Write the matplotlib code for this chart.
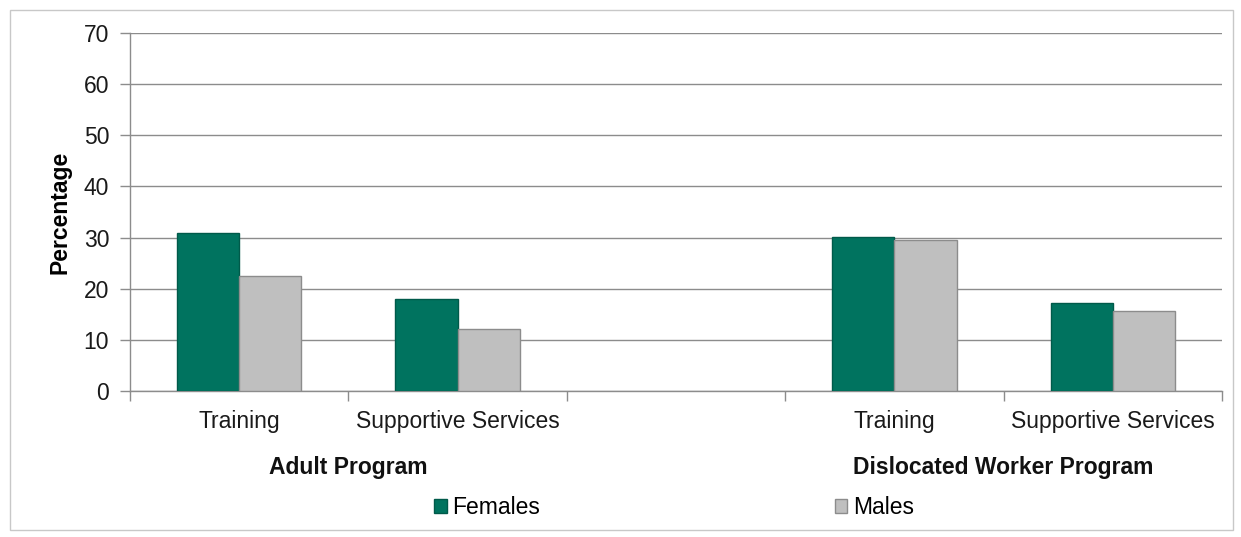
import matplotlib.pyplot as plt
from matplotlib.patches import Rectangle
import numpy as np

plt.rcParams['font.family'] = ['Liberation Sans', 'DejaVu Sans']

categories = ["Training", "Supportive Services", "", "Training", "Supportive Services"]
females = [30.8, 18.0, np.nan, 30.2, 17.2]
males = [22.4, 12.1, np.nan, 29.6, 15.6]
groups = ["Adult Program", "Dislocated Worker Program"]
group_centers = [0.5, 3.5]

green = "#00735f"
grey = "#bfbfbf"
line_grey = "#8c8c8c"

fig = plt.figure(figsize=(12.41, 5.37), dpi=100)
ax = fig.add_axes([130 / 1241, 1 - 391 / 537, 1092 / 1241, 358 / 537])

# light frame around the whole chart
fig.patches.append(Rectangle((10 / 1241, 7 / 537), 1223 / 1241, 520 / 537,
                             transform=fig.transFigure, fill=False,
                             edgecolor="#c8c8c8", linewidth=1))

x = np.arange(len(categories))
w = 0.285
ax.bar(x - w / 2, females, w, color=green, edgecolor="#005a4a", linewidth=1, label="Females", zorder=3)
ax.bar(x + w / 2, males, w, color=grey, edgecolor=line_grey, linewidth=1, label="Males", zorder=3)

ax.set_xlim(-0.5, len(categories) - 0.5)
ax.set_ylim(0, 70)
ax.set_yticks(range(0, 71, 10))
ax.yaxis.grid(True, color=line_grey, linewidth=1, zorder=0)
ax.set_axisbelow(True)

ax.set_xticks(x)
ax.set_xticklabels(categories)
ax.set_xticks(np.arange(-0.5, len(categories), 1), minor=True)
ax.tick_params(axis="x", which="major", length=0, pad=14, labelsize=16.5, labelcolor="#1a1a1a")
ax.tick_params(axis="x", which="minor", length=7, color=line_grey, width=1)
ax.tick_params(axis="y", length=7, color=line_grey, width=1, labelsize=16.5, labelcolor="#1a1a1a", pad=8)

for side in ["top", "right"]:
    ax.spines[side].set_visible(False)
for side in ["left", "bottom"]:
    ax.spines[side].set_color(line_grey)
    ax.spines[side].set_linewidth(1)

ax.set_ylabel("Percentage", fontsize=16.5, fontweight="bold", labelpad=9)

trans = ax.get_xaxis_transform()
for gx, g in zip(group_centers, groups):
    ax.text(gx, -0.215, g, transform=trans, ha="center", va="center",
            fontsize=16.5, fontweight="bold", color="#111111")

fig.legend(loc="center", bbox_to_anchor=(674 / 1241, 1 - 508 / 537), ncol=2,
           frameon=False, fontsize=16.5, handlelength=0.55, handleheight=0.55,
           handletextpad=0.25, columnspacing=12.85)

fig.savefig("out.png", dpi=100)
